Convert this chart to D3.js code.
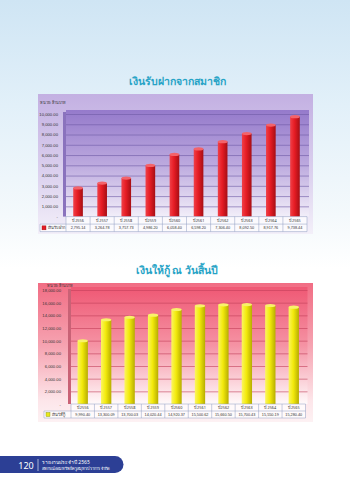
<!DOCTYPE html>
<html>
<head>
<meta charset="utf-8">
<script src="https://cdn.jsdelivr.net/npm/d3@7/dist/d3.min.js"></script>
<style>
  html, body { margin: 0; padding: 0; background: #fff; }
  svg { display: block; font-family: "Noto Sans", "DejaVu Sans", sans-serif; }
</style>
</head>
<body>
<svg id="page" width="350" height="480"></svg>
<script>
// Fiscal years shown in both charts
const years = ["ปี 2556", "ปี 2557", "ปี 2558", "ปี 2559", "ปี 2560",
               "ปี 2561", "ปี 2562", "ปี 2563", "ปี 2564", "ปี 2565"];

// Member deposits (million baht)
const deposits = [2795.14, 3264.78, 3757.73, 4986.20, 6058.40,
                  6598.20, 7306.40, 8092.50, 8917.76, 9738.44];

// Loans outstanding at year end (million baht)
const loans = [9990.40, 13300.09, 13700.03, 14020.44, 14920.37,
               15500.62, 15660.50, 15700.43, 15550.19, 15280.40];

const depositTicks = [0, 1000, 2000, 3000, 4000, 5000, 6000, 7000, 8000, 9000, 10000];
const loanTicks = [0, 2000, 4000, 6000, 8000, 10000, 12000, 14000, 16000, 18000];

const unitLabel = "หน่วย: ล้านบาท";

const svg = d3.select("#page");
const defs = svg.append("defs");

function linGrad(id, stops, vertical = true) {
  const g = defs.append("linearGradient").attr("id", id)
    .attr("x1", 0).attr("y1", 0)
    .attr("x2", vertical ? 0 : 1).attr("y2", vertical ? 1 : 0);
  stops.forEach(([o, c]) => g.append("stop").attr("offset", o).attr("stop-color", c));
  return `url(#${id})`;
}

// Page background: pale sky at the top fading to white
svg.append("rect").attr("width", 350).attr("height", 480)
  .attr("fill", linGrad("sky", [[0, "#cfe5f4"], [0.22, "#e2f0f9"], [0.45, "#f4f9fc"], [0.56, "#ffffff"], [1, "#ffffff"]]));

const fmtVal = d3.format(",.2f");

function drawChart(o) {
  const g = svg.append("g");

  // Title
  g.append("text").attr("x", o.titleX).attr("y", o.titleY)
    .attr("text-anchor", "middle").attr("fill", "#27a3c6")
    .attr("font-size", 10.5).attr("font-weight", 600).text(o.title);

  // Panel
  g.append("rect").attr("x", o.panel[0]).attr("y", o.panel[1])
    .attr("width", o.panel[2] - o.panel[0]).attr("height", o.panel[3] - o.panel[1])
    .attr("fill", linGrad(o.id + "panel", o.panelStops));

  const x = d3.scaleBand().domain(years).range([o.plotL, o.plotR])
    .paddingInner(o.pad).paddingOuter(o.pad / 2);
  const y = d3.scaleLinear().domain([0, o.max]).range([o.zeroY, o.topY]);

  // Plot area (back wall)
  g.append("rect").attr("x", o.plotL).attr("y", o.wallTop)
    .attr("width", o.plotR - o.plotL + 2).attr("height", o.zeroY - o.wallTop)
    .attr("fill", linGrad(o.id + "wall", o.wallStops));

  // Side wall
  g.append("rect").attr("x", o.plotL - 3).attr("y", o.wallTop + 2)
    .attr("width", 3).attr("height", o.zeroY - o.wallTop - 2)
    .attr("fill", o.sideColor);

  // Grid lines
  g.append("g").attr("transform", `translate(${o.plotL},0)`)
    .call(d3.axisLeft(y).tickValues(o.ticks.filter(t => t > 0))
      .tickSize(-(o.plotR - o.plotL + 2)).tickFormat(""))
    .call(a => a.select(".domain").remove())
    .call(a => a.selectAll("line").attr("stroke", o.gridColor).attr("stroke-width", 0.6));

  // Y axis labels
  g.append("g").attr("transform", `translate(${o.labelX},0)`)
    .call(d3.axisLeft(y).tickValues(o.ticks).tickSize(0)
      .tickFormat(d => d === 0 ? "-" : fmtVal(d)))
    .call(a => a.select(".domain").remove())
    .call(a => a.selectAll("text").attr("font-size", 4.2).attr("fill", "#333")
      .attr("x", 0).attr("dy", "0.32em").attr("font-family", "Liberation Sans, sans-serif"));

  // Unit caption
  g.append("text").attr("x", o.unitX).attr("y", o.unitY)
    .attr("font-size", 3.8).attr("fill", "#333").text(unitLabel);

  // Bars as shaded cylinders
  const body = linGrad(o.id + "bar", o.barStops, false);
  const bars = g.append("g").selectAll("g").data(o.values).join("g");
  bars.append("rect")
    .attr("x", (d, i) => x(years[i]))
    .attr("y", d => y(d))
    .attr("width", x.bandwidth())
    .attr("height", d => o.zeroY - y(d))
    .attr("fill", body);
  bars.append("ellipse")
    .attr("cx", (d, i) => x(years[i]) + x.bandwidth() / 2)
    .attr("cy", d => y(d))
    .attr("rx", x.bandwidth() / 2).attr("ry", 1.6)
    .attr("fill", o.capColor);

  // Data table
  const t = g.append("g");
  const r0 = o.zeroY, r1 = o.zeroY + o.rowH, r2 = o.zeroY + 2 * o.rowH;
  t.append("rect").attr("x", o.plotL).attr("y", r0)
    .attr("width", o.plotR - o.plotL).attr("height", 2 * o.rowH).attr("fill", "#ffffff").attr("opacity", 0.75);
  t.append("rect").attr("x", o.legendL).attr("y", r1)
    .attr("width", o.plotL - o.legendL).attr("height", o.rowH).attr("fill", "#ffffff").attr("opacity", 0.75);
  const lineC = "#8e9cc2";
  t.append("line").attr("x1", o.plotL).attr("x2", o.plotR).attr("y1", r0).attr("y2", r0).attr("stroke", lineC).attr("stroke-width", 0.5);
  t.append("line").attr("x1", o.legendL).attr("x2", o.plotR).attr("y1", r1).attr("y2", r1).attr("stroke", lineC).attr("stroke-width", 0.5);
  t.append("line").attr("x1", o.legendL).attr("x2", o.plotR).attr("y1", r2).attr("y2", r2).attr("stroke", lineC).attr("stroke-width", 0.5);
  t.append("line").attr("x1", o.legendL).attr("x2", o.legendL).attr("y1", r1).attr("y2", r2).attr("stroke", lineC).attr("stroke-width", 0.5);
  years.forEach((yr, i) => {
    const cx = x(yr) - x.step() * x.paddingInner() / 2;
    t.append("line").attr("x1", cx).attr("x2", cx).attr("y1", r0).attr("y2", r2).attr("stroke", lineC).attr("stroke-width", 0.5);
  });
  t.append("line").attr("x1", o.plotR).attr("x2", o.plotR).attr("y1", r0).attr("y2", r2).attr("stroke", lineC).attr("stroke-width", 0.5);
  t.selectAll(".yr").data(years).join("text")
    .attr("x", d => x(d) + x.bandwidth() / 2).attr("y", r0 + o.rowH / 2 + 1.3)
    .attr("text-anchor", "middle").attr("font-size", 3.8).attr("fill", "#333").text(d => d);
  t.selectAll(".vl").data(o.values).join("text")
    .attr("x", (d, i) => x(years[i]) + x.bandwidth() / 2).attr("y", r1 + o.rowH / 2 + 1.3)
    .attr("text-anchor", "middle").attr("font-size", 3.8).attr("fill", "#333")
    .attr("font-family", "Liberation Sans, sans-serif").text(d => fmtVal(d));
  t.append("rect").attr("x", o.legendL + 2).attr("y", r1 + o.rowH / 2 - 2)
    .attr("width", 4).attr("height", 4).attr("fill", o.keyColor).attr("stroke", o.keyStroke).attr("stroke-width", 0.4);
  t.append("text").attr("x", o.legendL + 7.5).attr("y", r1 + o.rowH / 2 + 1.4)
    .attr("font-size", 4).attr("fill", "#333").text(o.seriesName);
}

drawChart({
  id: "dep", title: "เงินรับฝากจากสมาชิก", titleX: 177, titleY: 85,
  panel: [38, 94, 313, 234],
  panelStops: [[0, "#c3b0e2"], [0.6, "#ddd3ef"], [1, "#f3eff9"]],
  wallStops: [[0, "#957acb"], [0.5, "#bba8de"], [1, "#f2eef9"]],
  sideColor: "#8a72bd", gridColor: "#6f5aa6",
  plotL: 66, plotR: 307, wallTop: 110, topY: 114, zeroY: 216.6, max: 10000,
  ticks: depositTicks, labelX: 58, unitX: 40, unitY: 103.5,
  pad: 0.6, values: deposits,
  barStops: [[0, "#f04048"], [0.45, "#e61c24"], [1, "#a60e14"]], capColor: "#f3636a",
  rowH: 7.5, legendL: 40, keyColor: "#e21c24", keyStroke: "#a01015", seriesName: "เงินรับฝาก"
});

drawChart({
  id: "loan", title: "เงินให้กู้ ณ วันสิ้นปี", titleX: 177, titleY: 274,
  panel: [38, 283, 313, 422],
  panelStops: [[0, "#f16d84"], [0.45, "#f6a3b1"], [0.85, "#fde6ea"], [1, "#fdf1f3"]],
  wallStops: [[0, "#ef5874"], [0.5, "#f593a4"], [1, "#fffafb"]],
  sideColor: "#c96276", gridColor: "#c2405a",
  plotL: 71, plotR: 305.5, wallTop: 287, topY: 290, zeroY: 404, max: 18000,
  ticks: loanTicks, labelX: 61, unitX: 47, unitY: 286.5,
  pad: 0.56, values: loans,
  barStops: [[0, "#fbf660"], [0.45, "#f3ea0c"], [1, "#b7ad00"]], capColor: "#f8f26a",
  rowH: 7, legendL: 44, keyColor: "#e8e81a", keyStroke: "#7f8a10", seriesName: "เงินให้กู้"
});

// Page footer band
const foot = svg.append("g");
foot.append("path")
  .attr("d", "M0,456 H115 A8.5,8.5 0 0 1 115,473 H0 Z")
  .attr("fill", "#2c3f95");
foot.append("text").attr("x", 26).attr("y", 468.5).attr("text-anchor", "middle")
  .attr("fill", "#fff").attr("font-size", 9).text("120");
foot.append("line").attr("x1", 38).attr("x2", 38).attr("y1", 459).attr("y2", 471)
  .attr("stroke", "#fff").attr("stroke-width", 0.6);
foot.append("text").attr("x", 42).attr("y", 463.5).attr("fill", "#fff")
  .attr("font-size", 5).text("รายงานประจำปี 2565");
foot.append("text").attr("x", 42).attr("y", 469.5).attr("fill", "#fff")
  .attr("font-size", 4).text("สหกรณ์ออมทรัพย์ครูสมุทรปราการ จำกัด");
</script>
</body>
</html>
